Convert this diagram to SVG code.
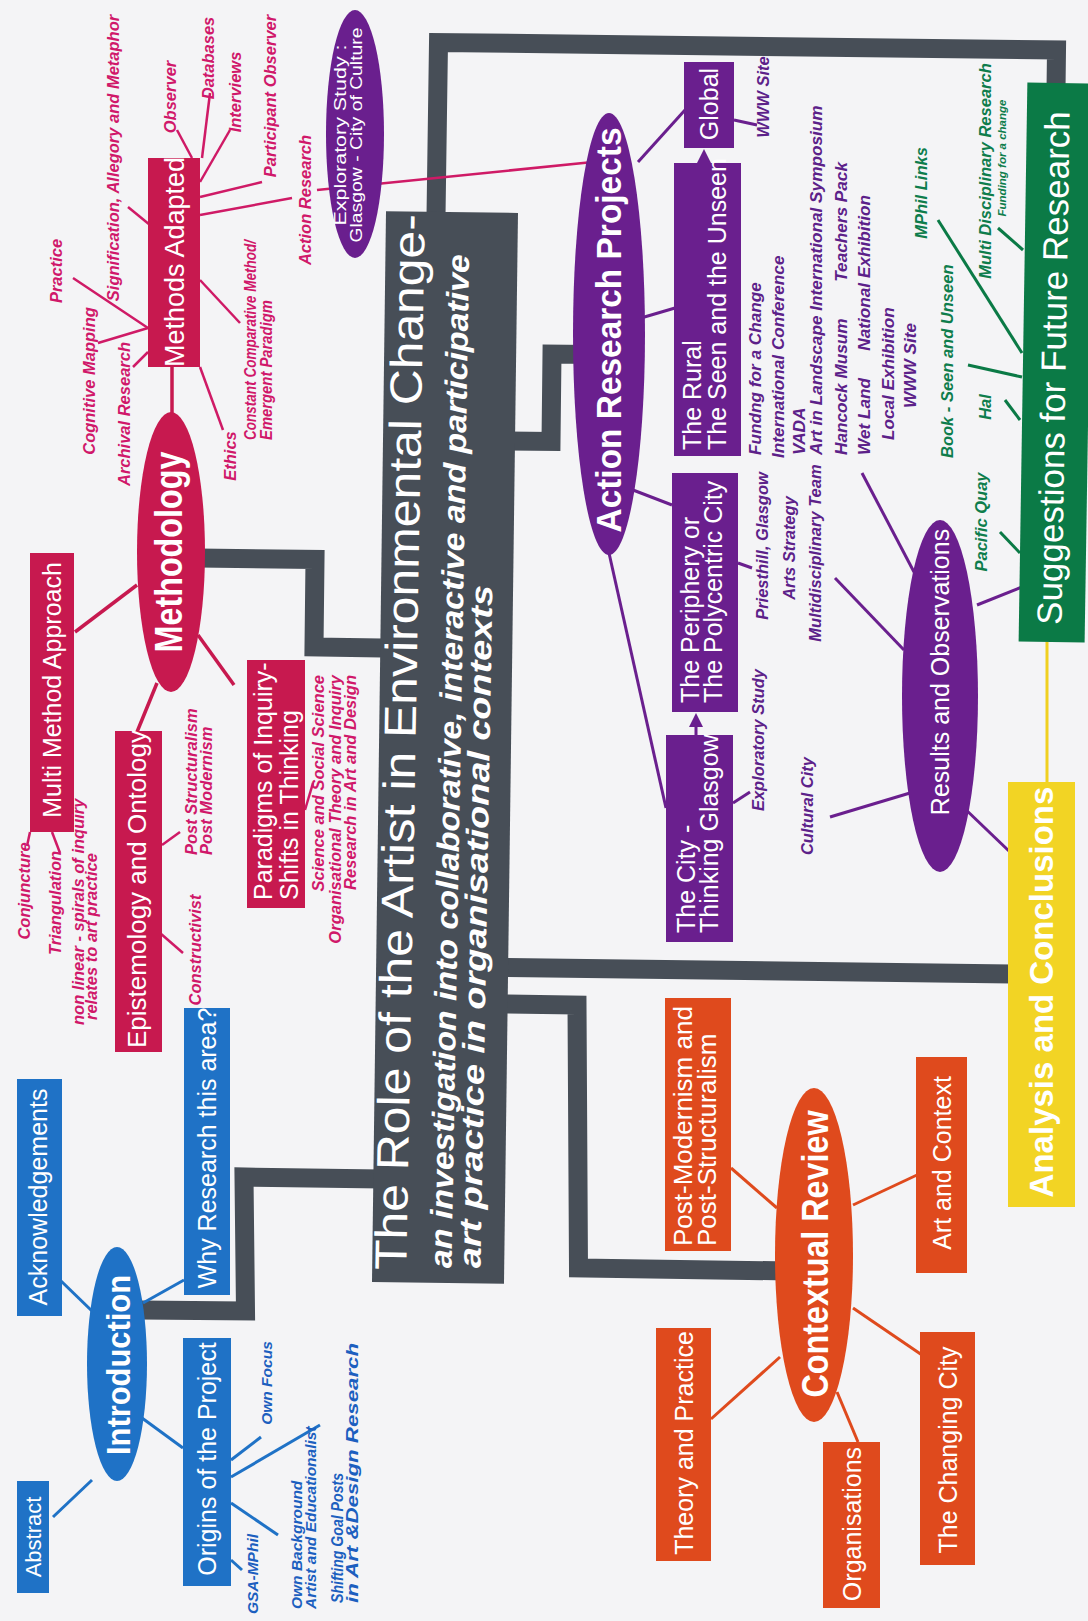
<svg xmlns="http://www.w3.org/2000/svg" width="1088" height="1621" viewBox="0 0 1088 1621">
<style>
  text { font-family: "Liberation Sans", Arial, Helvetica, sans-serif; dominant-baseline: central; text-anchor: middle; }
  .s { text-anchor: start; }
  .e { text-anchor: end; }
  .n { fill: #fff; font-size: 25px; }
  .b { fill: #fff; font-weight: bold; }
  .lb { font-size: 16.5px; font-weight: bold; font-style: italic; }
  .mag { fill: #d0186a; }
  .blu { fill: #1c5fbf; font-size: 15.5px; }
  .pur { fill: #5c2189; }
  .pl { font-size: 17.2px; }
  .grn { fill: #0e7d4c; }
  .trunk { fill: none; stroke: #474e57; stroke-width: 19; stroke-linejoin: miter; }
  .lc { stroke: #c7194f; stroke-width: 3.5; }
  .lm { stroke: #cf1a66; stroke-width: 2.5; }
  .lbl { stroke: #1f72c6; stroke-width: 3; }
  .lo { stroke: #df4a1d; stroke-width: 3; }
  .lp { stroke: #6a1f8e; stroke-width: 3; }
  .lg { stroke: #0b7a46; stroke-width: 3; }
  .cr { fill: #c7194f; }
  .bl { fill: #1f72c6; }
  .or { fill: #df4a1d; }
  .pu { fill: #6a1f8e; }
</style>
<rect width="1088" height="1621" fill="#f4f4f6"/>

<g id="connectors">
  <!-- main trunks from the title block -->
  <path class="trunk" d="M436,216 L438.5,42.5 L1056.5,50 L1056,90"/>
  <path class="trunk" d="M198,558 L315,559.5 L314,647 L382,648"/>
  <path class="trunk" d="M505,441 L551,441.5 L552,354 L590,354.5"/>
  <path class="trunk" d="M505,967.5 L1012,974"/>
  <path class="trunk" d="M505,1004 L577,1005 L578.5,1268 L790,1271"/>
  <path class="trunk" d="M382,1179 L244,1177 L245.5,1311 L140,1310"/>

  <!-- methodology branches -->
  <line class="lc" x1="172" y1="367" x2="172" y2="413"/>
  <line class="lc" x1="75" y1="632" x2="137" y2="585"/>
  <line class="lc" x1="157" y1="683" x2="137" y2="732"/>
  <line class="lc" x1="198" y1="635" x2="234" y2="685"/>
  <line class="lm" x1="73" y1="278" x2="148" y2="328"/>
  <line class="lm" x1="98" y1="343" x2="148" y2="328"/>
  <line class="lm" x1="133" y1="367" x2="148" y2="352"/>
  <line class="lm" x1="128" y1="207" x2="150" y2="225"/>
  <line class="lm" x1="177" y1="130" x2="192" y2="158"/>
  <line class="lm" x1="210" y1="93" x2="202" y2="158"/>
  <line class="lm" x1="230" y1="130" x2="200" y2="182"/>
  <line class="lm" x1="262" y1="182" x2="200" y2="197"/>
  <line class="lm" x1="292" y1="198" x2="200" y2="215"/>
  <line class="lm" x1="200" y1="280" x2="240" y2="323"/>
  <line class="lm" x1="200" y1="367" x2="223" y2="430"/>
  <line class="lm" x1="27" y1="846" x2="30" y2="832"/>
  <line class="lm" x1="60" y1="853" x2="52" y2="832"/>
  <line class="lm" x1="162" y1="845" x2="180" y2="832"/>
  <line class="lm" x1="160" y1="933" x2="183" y2="953"/>
  <line class="lm" x1="305" y1="810" x2="313" y2="783"/>
  <line class="lm" x1="317" y1="190" x2="593" y2="162"/>

  <!-- introduction branches -->
  <line class="lbl" x1="53" y1="1517" x2="92" y2="1480"/>
  <line class="lbl" x1="60" y1="1280" x2="93" y2="1312"/>
  <line class="lbl" x1="143" y1="1303" x2="184" y2="1280"/>
  <line class="lbl" x1="142" y1="1418" x2="183" y2="1448"/>
  <line class="lbl" x1="231" y1="1560" x2="242" y2="1570"/>
  <line class="lbl" x1="231" y1="1503" x2="278" y2="1535"/>
  <line class="lbl" x1="231" y1="1477" x2="320" y2="1425"/>
  <line class="lbl" x1="231" y1="1460" x2="261" y2="1437"/>

  <!-- contextual review branches -->
  <line class="lo" x1="731" y1="1168" x2="777" y2="1208"/>
  <line class="lo" x1="853" y1="1205" x2="917" y2="1175"/>
  <line class="lo" x1="711" y1="1419" x2="780" y2="1357"/>
  <line class="lo" x1="837" y1="1392" x2="858" y2="1442"/>
  <line class="lo" x1="853" y1="1308" x2="922" y2="1355"/>

  <!-- action research branches -->
  <line class="lp" x1="638" y1="162" x2="685" y2="110"/>
  <line class="lp" x1="641" y1="318" x2="675" y2="308"/>
  <line class="lp" x1="633" y1="490" x2="672" y2="505"/>
  <line class="lp" x1="609" y1="553" x2="666" y2="808"/>
  <line class="lp" x1="830" y1="817" x2="910" y2="793"/>
  <line class="lp" x1="962" y1="806" x2="1010" y2="852"/>
  <line class="lp" x1="977" y1="605" x2="1022" y2="587"/>
  <line class="lp" x1="835" y1="578" x2="904" y2="650"/>
  <line class="lp" x1="862" y1="473" x2="914" y2="572"/>
  <line class="lp" x1="734" y1="120" x2="757" y2="125"/>
  <line class="lp" x1="738" y1="563" x2="752" y2="568"/>
  <line class="lp" x1="733" y1="803" x2="750" y2="792"/>
  <line class="lp" x1="696" y1="727" x2="696" y2="736"/>
  <polygon class="pu" points="704,149 697,163 711,163"/>
  <polygon class="pu" points="696,713 689,727 703,727"/>

  <!-- suggestions branches -->
  <line class="lg" x1="938" y1="220" x2="1022" y2="353"/>
  <line class="lg" x1="998" y1="228" x2="1023" y2="250"/>
  <line class="lg" x1="968" y1="365" x2="1022" y2="377"/>
  <line class="lg" x1="1005" y1="400" x2="1020" y2="420"/>
  <line class="lg" x1="1000" y1="532" x2="1020" y2="553"/>
  <line x1="1047" y1="642" x2="1047" y2="782" stroke="#f0d020" stroke-width="3"/>
</g>

<g id="title">
  <rect x="379" y="212" width="132" height="1071" fill="#474e57" transform="rotate(0.75 445 747)"/>
  <text class="n" style="font-size:45px" transform="translate(400 742) rotate(-89)" textLength="1056" lengthAdjust="spacingAndGlyphs">The Role of the Artist in Environmental Change-</text>
  <text class="s" style="fill:#fff;font-size:31px;font-weight:bold;font-style:italic" transform="translate(441 1268) rotate(-89)" textLength="1014" lengthAdjust="spacingAndGlyphs">an investigation into collaborative, interactive and participative</text>
  <text class="s" style="fill:#fff;font-size:31px;font-weight:bold;font-style:italic" transform="translate(470 1268) rotate(-89)" textLength="683" lengthAdjust="spacingAndGlyphs">art practice in organisational contexts</text>
</g>

<g id="methodology">
  <ellipse class="cr" cx="171" cy="552" rx="34" ry="140"/>
  <text class="b" style="font-size:38px" transform="translate(169 552) rotate(-90)" textLength="201" lengthAdjust="spacingAndGlyphs">Methodology</text>
</g>
<g id="methods-adapted">
  <rect class="cr" x="148" y="158" width="52" height="209"/>
  <text class="n" style="font-size:27px" transform="translate(175 262) rotate(-90)">Methods Adapted</text>
  <text class="lb mag" transform="translate(56 271) rotate(-90)">Practice</text>
  <text class="lb mag" transform="translate(89 381) rotate(-90)">Cognitive Mapping</text>
  <text class="lb mag" transform="translate(124 414) rotate(-90)">Archival Research</text>
  <text class="lb mag" transform="translate(113 158) rotate(-90)">Signification, Allegory and Metaphor</text>
  <text class="lb mag" transform="translate(170 97) rotate(-90)">Observer</text>
  <text class="lb mag" transform="translate(208 58) rotate(-90)">Databases</text>
  <text class="lb mag" transform="translate(235 92) rotate(-90)">Interviews</text>
  <text class="lb mag" transform="translate(270 96) rotate(-90)">Participant Observer</text>
  <text class="lb mag" transform="translate(305 200) rotate(-90)">Action Research</text>
  <text class="lb mag s" transform="translate(250 440) rotate(-90)" textLength="200" lengthAdjust="spacingAndGlyphs">Constant Comparative Method/</text>
  <text class="lb mag s" transform="translate(266 440) rotate(-90)" textLength="140" lengthAdjust="spacingAndGlyphs">Emergent Paradigm</text>
  <text class="lb mag" transform="translate(230 456) rotate(-90)">Ethics</text>
</g>
<g id="multi-method">
  <rect class="cr" x="30" y="553" width="44" height="279"/>
  <text class="n" transform="translate(52 690) rotate(-90)">Multi Method Approach</text>
  <text class="lb mag" transform="translate(24 891) rotate(-90)">Conjuncture</text>
  <text class="lb mag" transform="translate(55 903) rotate(-90)">Triangulation</text>
  <text class="lb mag s" transform="translate(78 1025) rotate(-90)">non linear - spirals of inquiry</text>
  <text class="lb mag s" transform="translate(91 1020) rotate(-90)">relates to art practice</text>
</g>
<g id="epistemology">
  <rect class="cr" x="115" y="731" width="47" height="321"/>
  <text class="n" style="font-size:26px" transform="translate(137 889) rotate(-90)">Epistemology and Ontology</text>
  <text class="lb mag s" transform="translate(191 855) rotate(-90)">Post Structuralism</text>
  <text class="lb mag s" transform="translate(206 855) rotate(-90)">Post Modernism</text>
  <text class="lb mag" transform="translate(195 950) rotate(-90)">Constructivist</text>
</g>
<g id="paradigms">
  <rect class="cr" x="247" y="660" width="58" height="248"/>
  <text class="n s" transform="translate(263 900) rotate(-90)">Paradigms of Inquiry-</text>
  <text class="n s" transform="translate(289 900) rotate(-90)">Shifts in Thinking</text>
  <text class="lb mag e" transform="translate(318 675) rotate(-90)">Science and Social Science</text>
  <text class="lb mag e" transform="translate(335 675) rotate(-90)">Organisational Theory and Inquiry</text>
  <text class="lb mag e" transform="translate(350 675) rotate(-90)">Research in Art and Design</text>
</g>

<g id="introduction">
  <ellipse class="bl" cx="117" cy="1364" rx="30" ry="117"/>
  <text class="b" style="font-size:34px" transform="translate(118 1365) rotate(-90)" textLength="180" lengthAdjust="spacingAndGlyphs">Introduction</text>
</g>
<g id="abstract">
  <rect class="bl" x="17" y="1481" width="32" height="112"/>
  <text class="n" style="font-size:22px" transform="translate(33 1537) rotate(-90)">Abstract</text>
</g>
<g id="acknowledgements">
  <rect class="bl" x="17" y="1079" width="45" height="237"/>
  <text class="n" transform="translate(38 1197) rotate(-90)">Acknowledgements</text>
</g>
<g id="why-research">
  <rect class="bl" x="184" y="1008" width="46" height="287"/>
  <text class="n" transform="translate(207 1148) rotate(-90)">Why Research this area?</text>
</g>
<g id="origins">
  <rect class="bl" x="183" y="1338" width="48" height="248"/>
  <text class="n" transform="translate(207 1459) rotate(-90)">Origins of the Project</text>
  <text class="lb blu" transform="translate(252 1574) rotate(-90)">GSA-MPhil</text>
  <text class="lb blu" transform="translate(266 1383) rotate(-90)">Own Focus</text>
  <text class="lb blu s" transform="translate(296 1609) rotate(-90)">Own Background</text>
  <text class="lb blu s" transform="translate(310 1609) rotate(-90)">Artist and Educationalist</text>
  <text class="lb blu s" style="font-size:16px" transform="translate(337 1603) rotate(-90)" textLength="130" lengthAdjust="spacingAndGlyphs">Shifting Goal Posts</text>
  <text class="lb blu s" style="font-size:16px" transform="translate(352 1603) rotate(-90)" textLength="260" lengthAdjust="spacingAndGlyphs">in Art &amp;Design Research</text>
</g>

<g id="contextual-review">
  <ellipse class="or" cx="814" cy="1255" rx="39" ry="167"/>
  <text class="b" style="font-size:36px" transform="translate(815 1254) rotate(-90)" textLength="287" lengthAdjust="spacingAndGlyphs">Contextual Review</text>
</g>
<g id="post-modernism">
  <rect class="or" x="665" y="998" width="66" height="253"/>
  <text class="n s" style="font-size:26px" transform="translate(683 1246) rotate(-90)">Post-Modernism and</text>
  <text class="n s" style="font-size:26px" transform="translate(707 1246) rotate(-90)">Post-Structuralism</text>
</g>
<g id="theory-practice">
  <rect class="or" x="656" y="1328" width="55" height="233"/>
  <text class="n" transform="translate(683.5 1443) rotate(-90)">Theory and Practice</text>
</g>
<g id="organisations">
  <rect class="or" x="823" y="1442" width="57" height="166"/>
  <text class="n" transform="translate(851.5 1524) rotate(-90)">Organisations</text>
</g>
<g id="changing-city">
  <rect class="or" x="920" y="1332" width="55" height="233"/>
  <text class="n" transform="translate(947.5 1450) rotate(-90)">The Changing City</text>
</g>
<g id="art-context">
  <rect class="or" x="916" y="1057" width="51" height="216"/>
  <text class="n" transform="translate(941.5 1163) rotate(-90)">Art and Context</text>
</g>

<g id="action-research">
  <ellipse class="pu" cx="609" cy="334" rx="36" ry="221"/>
  <text class="b" style="font-size:35px" transform="translate(608 330) rotate(-90)" textLength="405" lengthAdjust="spacingAndGlyphs">Action Research Projects</text>
</g>
<g id="exploratory-study">
  <ellipse class="pu" cx="355" cy="134" rx="29" ry="124"/>
  <text class="n" style="font-size:17px" transform="translate(340 135) rotate(-90)" textLength="181" lengthAdjust="spacingAndGlyphs">Exploratory Study :</text>
  <text class="n" style="font-size:17px" transform="translate(356 135) rotate(-90)" textLength="215" lengthAdjust="spacingAndGlyphs">Glasgow - City of Culture</text>
</g>
<g id="global">
  <rect class="pu" x="684" y="62" width="50" height="86"/>
  <text class="n" transform="translate(709 104) rotate(-90)">Global</text>
  <text class="lb pur" transform="translate(763 97) rotate(-90)">WWW Site</text>
</g>
<g id="rural">
  <rect class="pu" x="674" y="163" width="67" height="293"/>
  <text class="n s" transform="translate(692 450) rotate(-90)">The Rural</text>
  <text class="n s" transform="translate(717 450) rotate(-90)">The Seen and the Unseen</text>
  <text class="lb pur pl s" transform="translate(755 455) rotate(-90)">Fundng for a Change</text>
  <text class="lb pur pl s" transform="translate(778 458) rotate(-90)">International Conference</text>
  <text class="lb pur pl s" transform="translate(799 455) rotate(-90)">VADA</text>
  <text class="lb pur pl s" transform="translate(816 455) rotate(-90)">Art in Landscape International Symposium</text>
  <text class="lb pur pl s" transform="translate(841 455) rotate(-90)">Hancock Musum</text>
  <text class="lb pur pl e" transform="translate(841 162) rotate(-90)">Teachers Pack</text>
  <text class="lb pur pl s" transform="translate(864 455) rotate(-90)">Wet Land</text>
  <text class="lb pur pl e" transform="translate(864 195) rotate(-90)">National Exhibition</text>
  <text class="lb pur pl s" transform="translate(888 440) rotate(-90)">Local Exhibition</text>
  <text class="lb pur pl s" transform="translate(910 408) rotate(-90)">WWW Site</text>
</g>
<g id="periphery">
  <rect class="pu" x="672" y="473" width="66" height="239"/>
  <text class="n s" transform="translate(690 703) rotate(-90)">The Periphery or</text>
  <text class="n s" transform="translate(713 703) rotate(-90)">The Polycentric City</text>
  <text class="lb pur" transform="translate(762 546) rotate(-90)">Priesthill, Glasgow</text>
  <text class="lb pur" transform="translate(789 548) rotate(-90)">Arts Strategy</text>
  <text class="lb pur" transform="translate(815 553) rotate(-90)">Multidisciplinary Team</text>
</g>
<g id="city-glasgow">
  <rect class="pu" x="666" y="735" width="67" height="207"/>
  <text class="n s" transform="translate(686 933) rotate(-90)">The City -</text>
  <text class="n s" transform="translate(709 933) rotate(-90)">Thinking Glasgow</text>
  <text class="lb pur" transform="translate(758 740) rotate(-90)">Exploratory Study</text>
  <text class="lb pur" transform="translate(807 806) rotate(-90)">Cultural City</text>
</g>
<g id="results">
  <ellipse class="pu" cx="940" cy="696" rx="38" ry="176"/>
  <text class="n" transform="translate(940 672) rotate(-90)">Results and Observations</text>
</g>

<g id="suggestions">
  <rect x="1023" y="83" width="66" height="559" fill="#0b7a46" transform="rotate(0.9 1055 362)"/>
  <text class="n" style="font-size:35px" transform="translate(1053 368) rotate(-89.1)">Suggestions for Future Research</text>
  <text class="lb grn" transform="translate(921 193) rotate(-90)">MPhil Links</text>
  <text class="lb grn" transform="translate(985 171) rotate(-90)">Multi Disciplinary Research</text>
  <text class="lb grn" style="font-size:11.5px" transform="translate(1002 158) rotate(-90)">Funding for a change</text>
  <text class="lb grn s" transform="translate(947 458) rotate(-90)">Book - Seen and Unseen</text>
  <text class="lb grn" transform="translate(985 407) rotate(-90)">Hal</text>
  <text class="lb grn" transform="translate(981 522) rotate(-90)">Pacific Quay</text>
</g>
<g id="analysis">
  <rect x="1008" y="782" width="67" height="425" fill="#f2d424"/>
  <text class="b" style="font-size:33px" transform="translate(1041 992) rotate(-90)">Analysis and Conclusions</text>
</g>
</svg>
